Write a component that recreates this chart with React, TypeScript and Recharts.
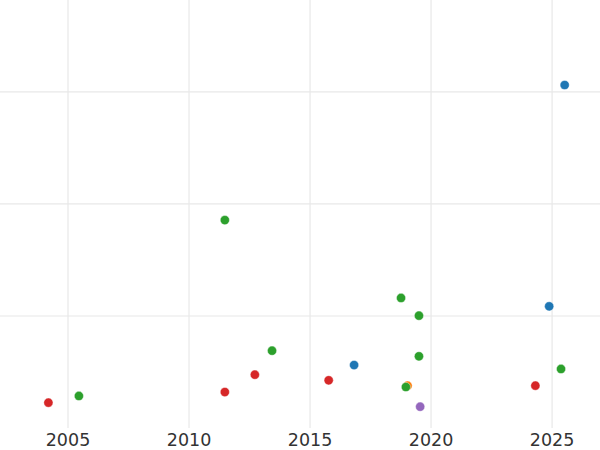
import { ScatterChart, Scatter, XAxis, YAxis, CartesianGrid } from 'recharts'

// year (x) and value (y) for each colour group
const blueYears = [2016.82, 2024.88, 2025.52]
const blueValues = [56.2, 108.6, 306.2]

const orangeYears = [2019.03]
const orangeValues = [37.8]

const greenYears = [2005.45, 2011.48, 2013.43, 2018.76, 2018.96, 2019.5, 2019.5, 2025.37]
const greenValues = [28.6, 185.6, 69.0, 116.1, 36.6, 100.3, 64.0, 52.7]

const redYears = [2004.19, 2011.48, 2012.72, 2015.77, 2024.31]
const redValues = [22.6, 32.1, 47.6, 42.6, 37.8]

const purpleYears = [2019.55]
const purpleValues = [19.0]

const yearTicks = [2005, 2010, 2015, 2020, 2025]
const valueTicks = [100, 200, 300]

const toPoints = (xs: number[], ys: number[]) => ys.map((y, i) => ({ x: xs[i], y }))

const series = [
  { name: 'blue', color: '#1f77b4', data: toPoints(blueYears, blueValues) },
  { name: 'orange', color: '#ff7f0e', data: toPoints(orangeYears, orangeValues) },
  { name: 'green', color: '#2ca02c', data: toPoints(greenYears, greenValues) },
  { name: 'red', color: '#d62728', data: toPoints(redYears, redValues) },
  { name: 'purple', color: '#9467bd', data: toPoints(purpleYears, purpleValues) },
]

const dot = (color: string) => (props: any) => (
  <circle cx={props.cx} cy={props.cy} r={4.6} fill={color} stroke="white" strokeWidth={0.4} />
)

export default function App() {
  return (
    <div style={{ position: 'absolute', left: 0, top: 0, fontFamily: 'DejaVu Sans' }}>
      <ScatterChart width={600} height={450} margin={{ top: 0, right: 0, bottom: 0, left: 0 }}>
        <CartesianGrid stroke="#e8e8e8" strokeWidth={1.2} horizontalValues={valueTicks} verticalValues={yearTicks} />
        <XAxis
          type="number"
          dataKey="x"
          domain={[2002.19, 2026.98]}
          ticks={yearTicks}
          allowDataOverflow
          axisLine={false}
          tickLine={false}
          tickSize={0}
          tickMargin={6}
          height={22}
          tick={{ fill: '#333333', fontSize: 17.5, fontFamily: 'DejaVu Sans' }}
        />
        <YAxis type="number" dataKey="y" domain={[0, 382.1]} ticks={valueTicks} allowDataOverflow hide />
        {series.map((s) => (
          <Scatter
            key={s.name}
            data={s.data}
            fill={s.color}
            shape={dot(s.color)}
            isAnimationActive={false}
          />
        ))}
      </ScatterChart>
    </div>
  )
}
